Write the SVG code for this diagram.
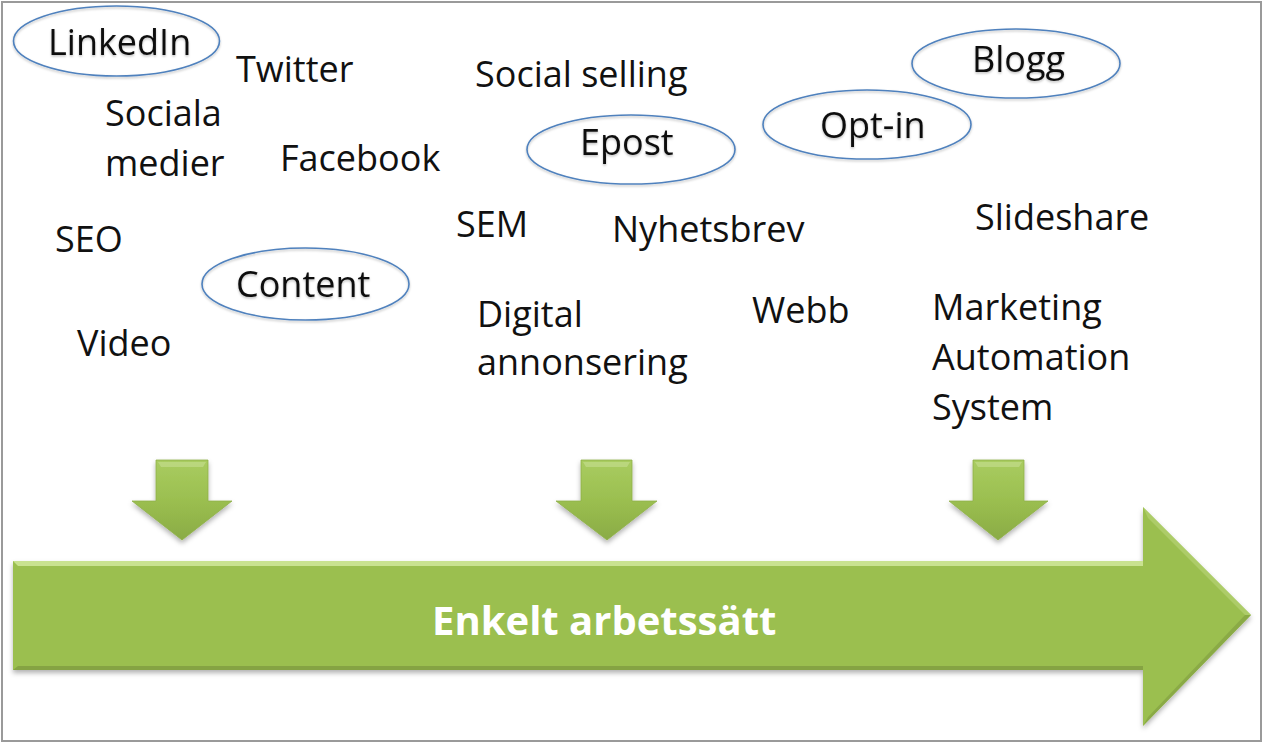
<svg xmlns="http://www.w3.org/2000/svg" width="1264" height="743" viewBox="0 0 1264 743">
<style>
  .t { font-family: "Open Sans", "Noto Sans", "Liberation Sans", sans-serif; font-size: 36px; fill: #111; }
  .ell { fill: none; stroke: #4f81bd; stroke-width: 1.6; }
  .big { font-family: "Open Sans", "Noto Sans", "Liberation Sans", sans-serif; font-size: 40px; font-weight: bold; fill: #ffffff; }
  .down { fill: url(#gSmall); stroke: #8fb04a; stroke-width: 0.8; }
</style>
<defs>
  <linearGradient id="gSmall" x1="0" y1="0" x2="0" y2="1">
    <stop offset="0" stop-color="#a9cc60"/>
    <stop offset="0.5" stop-color="#9bbf50"/>
    <stop offset="1" stop-color="#8aab45"/>
  </linearGradient>
  <filter id="shadow" x="-5%" y="-10%" width="110%" height="130%">
    <feDropShadow dx="0" dy="3" stdDeviation="2.5" flood-color="#000" flood-opacity="0.3"/>
  </filter>
  <filter id="eshadow" x="-10%" y="-10%" width="120%" height="130%">
    <feDropShadow dx="0" dy="1.5" stdDeviation="1.2" flood-color="#000" flood-opacity="0.25"/>
  </filter>
</defs>
<rect x="0" y="0" width="1264" height="743" fill="#ffffff"/>
<rect x="2" y="2" width="1259" height="739" fill="none" stroke="#9a9a9a" stroke-width="2"/>

<g id="connectors">
  <g id="arrow-down-1" filter="url(#shadow)">
    <path class="down" d="M156,460 H208 V501 H232 L182,540 L132,501 H156 Z"/>
    <path d="M158,462 H206 L203,467 H161 Z" fill="#c2dc8a" opacity="0.7"/>
  </g>
  <g id="arrow-down-2" filter="url(#shadow)">
    <path class="down" d="M581,460 H632 V501 H657 L607,540 L556,501 H581 Z"/>
    <path d="M583,462 H630 L627,467 H586 Z" fill="#c2dc8a" opacity="0.7"/>
  </g>
  <g id="arrow-down-3" filter="url(#shadow)">
    <path class="down" d="M973,460 H1024 V501 H1048 L998,540 L949,501 H973 Z"/>
    <path d="M975,462 H1022 L1019,467 H978 Z" fill="#c2dc8a" opacity="0.7"/>
  </g>
</g>

<g id="main-arrow">
  <path d="M13,561 H1143 V507 L1251,615 L1143,726 V670 H13 Z" fill="#9bbf50" filter="url(#shadow)"/>
  <path d="M13,561 H1143 V566 H18 Z" fill="#c9e290"/>
  <path d="M13,670 H1143 V666 H18 Z" fill="#7f9c40" opacity="0.8"/>
  <path d="M1143,507 L1251,615 L1245,615 L1148,518 Z" fill="#b5d274" opacity="0.7"/>
  <path d="M1143,726 L1251,615 L1245,615 L1148,717 Z" fill="#7f9c40" opacity="0.6"/>
  <text class="big" x="432" y="635">Enkelt arbetssätt</text>
</g>

<g id="linkedin" filter="url(#eshadow)">
  <ellipse class="ell" cx="116.5" cy="41" rx="103" ry="35"/>
  <text class="t" x="48" y="55">LinkedIn</text>
</g>
<g id="twitter"><text class="t" x="236" y="82">Twitter</text></g>
<g id="sociala-medier">
  <text class="t" x="105" y="126">Sociala</text>
  <text class="t" x="105" y="176">medier</text>
</g>
<g id="facebook"><text class="t" x="280" y="171">Facebook</text></g>
<g id="seo"><text class="t" x="55" y="252">SEO</text></g>
<g id="content" filter="url(#eshadow)">
  <ellipse class="ell" cx="305.5" cy="284" rx="103.5" ry="36"/>
  <text class="t" x="236" y="297">Content</text>
</g>
<g id="video"><text class="t" x="77" y="356">Video</text></g>

<g id="social-selling"><text class="t" x="475" y="87">Social selling</text></g>
<g id="epost" filter="url(#eshadow)">
  <ellipse class="ell" cx="631" cy="149.5" rx="104" ry="34.5"/>
  <text class="t" x="580" y="155">Epost</text>
</g>
<g id="sem"><text class="t" x="456" y="237">SEM</text></g>
<g id="nyhetsbrev"><text class="t" x="612" y="242">Nyhetsbrev</text></g>
<g id="digital-annonsering">
  <text class="t" x="477" y="327">Digital</text>
  <text class="t" x="477" y="375">annonsering</text>
</g>
<g id="webb"><text class="t" x="752" y="323">Webb</text></g>

<g id="blogg" filter="url(#eshadow)">
  <ellipse class="ell" cx="1016" cy="63.5" rx="104" ry="34.5"/>
  <text class="t" x="972" y="72">Blogg</text>
</g>
<g id="opt-in" filter="url(#eshadow)">
  <ellipse class="ell" cx="867" cy="124.5" rx="104" ry="34.5"/>
  <text class="t" x="820" y="138">Opt-in</text>
</g>
<g id="slideshare"><text class="t" x="975" y="230">Slideshare</text></g>
<g id="marketing-automation">
  <text class="t" x="932" y="320">Marketing</text>
  <text class="t" x="932" y="370">Automation</text>
  <text class="t" x="932" y="420">System</text>
</g>
</svg>
